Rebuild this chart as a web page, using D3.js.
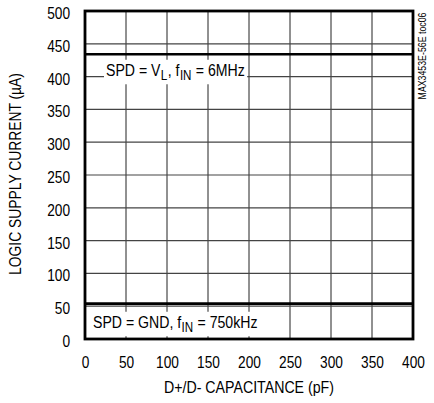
<!DOCTYPE html>
<html lang="en">
<head>
<meta charset="utf-8">
<title>toc06</title>
<script src="https://cdn.jsdelivr.net/npm/d3@7"></script>
<style>
body { margin: 0; background: #fff; }
text { font-family: "Liberation Sans", Arial, sans-serif; fill: #000; white-space: pre; }
</style>
</head>
<body>
<script>

// capacitance (pF)
var capacitance = [0, 50, 100, 150, 200, 250, 300, 350, 400];
// supply current (uA)
var spdVL = [434, 434, 434, 434, 434, 434, 434, 434, 434];
var spdGND = [54, 54, 54, 54, 54, 54, 54, 54, 54];

var xTicks = [0, 50, 100, 150, 200, 250, 300, 350, 400];
var yTicks = [0, 50, 100, 150, 200, 250, 300, 350, 400, 450, 500];

var W = 434, H = 403;
var svg = d3.select("body").append("svg")
    .attr("width", W)
    .attr("height", H);

var x = d3.scaleLinear().domain([0, 400]).range([85, 413]);
var y = d3.scaleLinear().domain([0, 500]).range([339, 11]);

// the condensed face is not installed, so texts get a horizontal squeeze
var NARROW = 0.83;

// grid
svg.append("g").selectAll("line")
    .data(xTicks.slice(1, -1))
    .enter().append("line")
    .attr("x1", function(d) { return x(d); })
    .attr("x2", function(d) { return x(d); })
    .attr("y1", y(500)).attr("y2", y(0))
    .attr("stroke", "#222").attr("stroke-width", 1);

svg.append("g").selectAll("line")
    .data(yTicks.slice(1, -1))
    .enter().append("line")
    .attr("x1", x(0)).attr("x2", x(400))
    .attr("y1", function(d) { return y(d); })
    .attr("y2", function(d) { return y(d); })
    .attr("stroke", "#444").attr("stroke-width", 1.2);

// curves
var line = d3.line()
    .x(function(d, i) { return x(capacitance[i]); })
    .y(function(d) { return y(d); });

[spdVL, spdGND].forEach(function(s) {
  svg.append("path")
     .datum(s)
     .attr("d", line)
     .attr("fill", "none")
     .attr("stroke", "#000")
     .attr("stroke-width", 2.6);
});

// labels with white backing, pieces laid out one after another
function label(px, py, parts) {
  var g = svg.append("g");
  var bg = g.append("rect").attr("fill", "#fff");
  var cx = px;
  parts.forEach(function(p) {
    var sub = p[1];
    var t = g.append("text")
        .attr("transform", "translate(" + cx + "," + (sub ? py + 4 : py) + ") scale(" + NARROW + ",1)")
        .style("font-size", sub ? "14px" : "17px")
        .text(p[0]);
    cx += t.node().getComputedTextLength() * NARROW + 0.4;
  });
  var b = g.node().getBBox();
  bg.attr("x", px - 2).attr("y", b.y - 1)
    .attr("width", cx - px + 4).attr("height", b.height + 2);
}

label(106, 76, [["SPD = V"], ["L", 1], [", f"], ["IN", 1], [" = 6MHz"]]);
label(93, 328, [["SPD = GND, f"], ["IN", 1], [" = 750kHz"]]);

// frame
svg.append("rect")
    .attr("x", x(0)).attr("y", y(500))
    .attr("width", x(400) - x(0)).attr("height", y(0) - y(500))
    .attr("fill", "none")
    .attr("stroke", "#000")
    .attr("stroke-width", 2.8);

// axes
var xAxis = d3.axisBottom(x).tickValues(xTicks).tickSize(0).tickPadding(17);
var yAxis = d3.axisLeft(y).tickValues(yTicks).tickSize(0).tickPadding(15);

var gx = svg.append("g").attr("transform", "translate(0," + y(0) + ")").call(xAxis);
var gy = svg.append("g").attr("transform", "translate(" + x(0) + ",0)").call(yAxis);
[gx, gy].forEach(function(g) {
  g.select(".domain").remove();
  g.selectAll("text").style("font-size", "16.5px")
    .style("font-family", null).attr("fill", "#000")
    .attr("transform", "scale(" + NARROW + ",1)");
});
gy.selectAll("text").attr("dy", "0.45em").attr("x", -15 / NARROW);

svg.append("text")
    .attr("transform", "translate(" + (x(0) + x(400)) / 2 + ",393) scale(0.86,1)")
    .attr("text-anchor", "middle")
    .style("font-size", "16.5px")
    .text("D+/D- CAPACITANCE (pF)");

svg.append("text")
    .attr("transform", "translate(21,174) rotate(-90) scale(0.84,1)")
    .attr("text-anchor", "middle")
    .style("font-size", "16.5px")
    .text("LOGIC SUPPLY CURRENT (\u00b5A)");

var wm = svg.append("text")
    .attr("text-anchor", "middle")
    .style("font-size", "11px")
    .text("MAX3453E-56E toc06");
var wmk = 87 / wm.node().getComputedTextLength();
wm.attr("transform", "translate(426,56) rotate(-90) scale(" + wmk + ",1)");

</script>
</body>
</html>
